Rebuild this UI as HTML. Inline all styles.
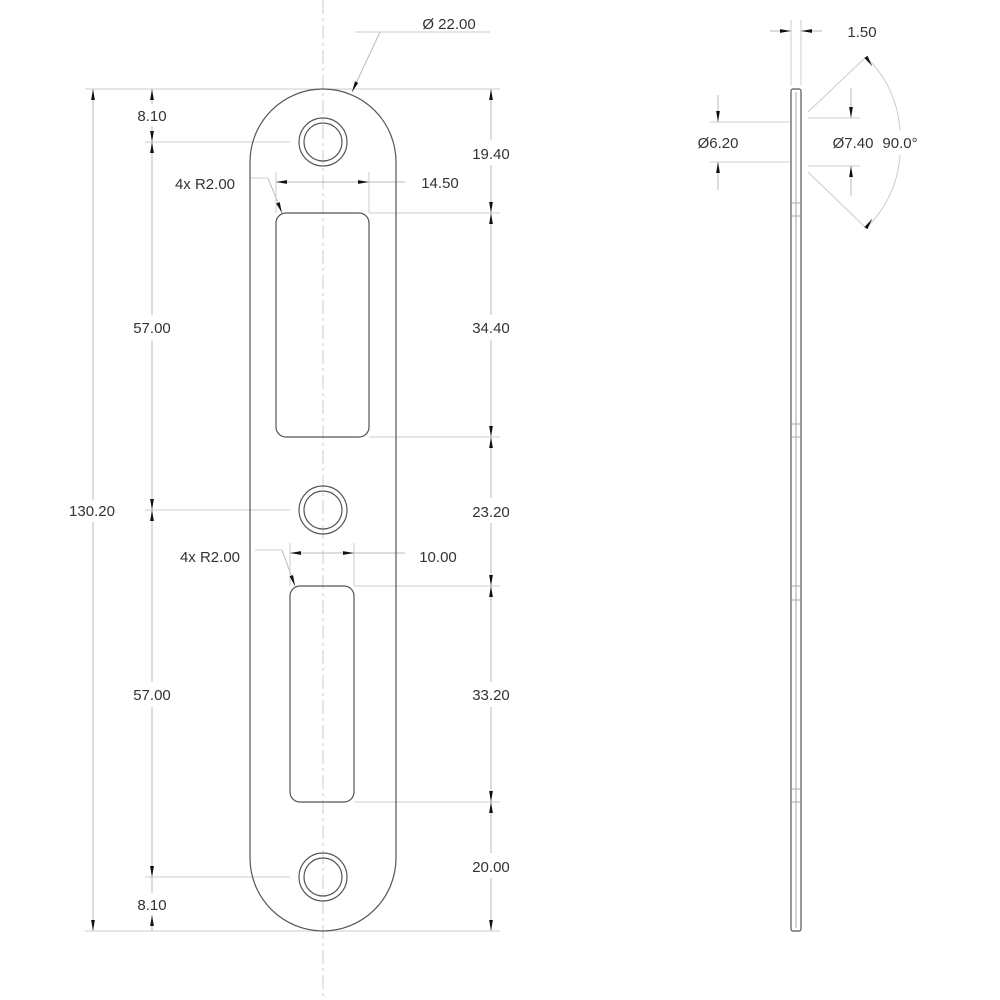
<!DOCTYPE html>
<html><head><style>html,body{margin:0;padding:0;background:#fff}svg{display:block}text{font-family:"Liberation Sans",sans-serif;font-size:15px;fill:#333}</style></head><body>
<svg width="1000" height="1000" viewBox="0 0 1000 1000" xmlns="http://www.w3.org/2000/svg">
<defs>
<marker id="a" viewBox="0 0 10 4" refX="10" refY="2" markerWidth="11" markerHeight="5" markerUnits="userSpaceOnUse" orient="auto-start-reverse"><path d="M0,0.3L10,2L0,3.7z" fill="#111"/></marker>
</defs>
<g stroke="#ccc" stroke-width="1" fill="none">
<line x1="323" y1="0" x2="323" y2="1000" stroke-dasharray="14,4,3,4"/>
<line x1="85" y1="89" x2="330" y2="89"/>
<line x1="85" y1="931" x2="500" y2="931"/>
<line x1="145" y1="142" x2="290" y2="142"/>
<line x1="145" y1="510" x2="290" y2="510"/>
<line x1="145" y1="877" x2="290" y2="877"/>
<line x1="330" y1="89" x2="500" y2="89"/>
<line x1="369" y1="213" x2="500" y2="213"/>
<line x1="369" y1="437" x2="500" y2="437"/>
<line x1="354" y1="586" x2="500" y2="586"/>
<line x1="354" y1="802" x2="500" y2="802"/>
<line x1="276" y1="172" x2="276" y2="213"/>
<line x1="369" y1="172" x2="369" y2="213"/>
<line x1="290" y1="543" x2="290" y2="586"/>
<line x1="354" y1="543" x2="354" y2="586"/>
<line x1="355" y1="32" x2="490" y2="32"/>
<line x1="250" y1="178" x2="268" y2="178"/>
<line x1="255" y1="550" x2="282" y2="550"/>
<line x1="791" y1="20" x2="791" y2="85"/>
<line x1="801" y1="20" x2="801" y2="85"/>
<line x1="710" y1="122" x2="790" y2="122"/>
<line x1="710" y1="162" x2="790" y2="162"/>
<line x1="808" y1="118" x2="860" y2="118"/>
<line x1="808" y1="166" x2="860" y2="166"/>
<line x1="808" y1="112" x2="866" y2="57"/>
<line x1="808" y1="172" x2="866" y2="228"/>
<path d="M866,57 A110,110 0 0 1 900,130"/>
<path d="M900,155 A110,110 0 0 1 866,228"/>
</g>
<g stroke="#bbb" stroke-width="1" fill="none">
<line x1="93" y1="89" x2="93" y2="500" marker-start="url(#a)"/>
<line x1="93" y1="522" x2="93" y2="931" marker-end="url(#a)"/>
<line x1="152" y1="89" x2="152" y2="104" marker-start="url(#a)"/>
<line x1="152" y1="126" x2="152" y2="142" marker-end="url(#a)"/>
<line x1="152" y1="142" x2="152" y2="315" marker-start="url(#a)"/>
<line x1="152" y1="340" x2="152" y2="510" marker-end="url(#a)"/>
<line x1="152" y1="510" x2="152" y2="682" marker-start="url(#a)"/>
<line x1="152" y1="707" x2="152" y2="877" marker-end="url(#a)"/>
<line x1="152" y1="860" x2="152" y2="877" marker-end="url(#a)"/>
<line x1="152" y1="931" x2="152" y2="915" marker-end="url(#a)"/>
<line x1="152" y1="877" x2="152" y2="893"/>
<line x1="491" y1="89" x2="491" y2="140" marker-start="url(#a)"/>
<line x1="491" y1="165" x2="491" y2="213" marker-end="url(#a)"/>
<line x1="491" y1="213" x2="491" y2="315" marker-start="url(#a)"/>
<line x1="491" y1="340" x2="491" y2="437" marker-end="url(#a)"/>
<line x1="491" y1="437" x2="491" y2="498" marker-start="url(#a)"/>
<line x1="491" y1="523" x2="491" y2="586" marker-end="url(#a)"/>
<line x1="491" y1="586" x2="491" y2="682" marker-start="url(#a)"/>
<line x1="491" y1="707" x2="491" y2="802" marker-end="url(#a)"/>
<line x1="491" y1="802" x2="491" y2="853" marker-start="url(#a)"/>
<line x1="491" y1="878" x2="491" y2="931" marker-end="url(#a)"/>
<line x1="276" y1="182" x2="369" y2="182" marker-start="url(#a)" marker-end="url(#a)"/>
<line x1="369" y1="182" x2="405" y2="182"/>
<line x1="290" y1="553" x2="354" y2="553" marker-start="url(#a)" marker-end="url(#a)"/>
<line x1="354" y1="553" x2="405" y2="553"/>
<line x1="268" y1="178" x2="282" y2="213" marker-end="url(#a)"/>
<line x1="282" y1="550" x2="295" y2="586" marker-end="url(#a)"/>
<line x1="380" y1="32" x2="352" y2="92" marker-end="url(#a)"/>
<line x1="770" y1="31" x2="791" y2="31" marker-end="url(#a)"/>
<line x1="822" y1="31" x2="801" y2="31" marker-end="url(#a)"/>
<line x1="718" y1="95" x2="718" y2="122" marker-end="url(#a)"/>
<line x1="718" y1="190" x2="718" y2="162" marker-end="url(#a)"/>
<line x1="851" y1="88" x2="851" y2="118" marker-end="url(#a)"/>
<line x1="851" y1="196" x2="851" y2="166" marker-end="url(#a)"/>
<line x1="872" y1="66" x2="866" y2="57" marker-start="url(#a)"/>
<line x1="872" y1="219" x2="866" y2="228" marker-start="url(#a)"/>
</g>
<g stroke="#555" stroke-width="1.2" fill="none">
<path d="M250,162 A73,73 0 0 1 396,162 L396,858 A73,73 0 0 1 250,858 Z"/>
<circle cx="323" cy="142" r="24"/><circle cx="323" cy="142" r="19"/>
<circle cx="323" cy="510" r="24"/><circle cx="323" cy="510" r="19"/>
<circle cx="323" cy="877" r="24"/><circle cx="323" cy="877" r="19"/>
<rect x="276" y="213" width="93" height="224" rx="10"/>
<rect x="290" y="586" width="64" height="216" rx="10"/>
<rect x="791" y="89" width="10" height="842" rx="2"/>
</g>
<g stroke="#aaa" stroke-width="1" fill="none">
<line x1="796" y1="92" x2="796" y2="928"/>
<line x1="791" y1="424" x2="801" y2="424"/><line x1="791" y1="437" x2="801" y2="437"/>
<line x1="791" y1="586" x2="801" y2="586"/><line x1="791" y1="600" x2="801" y2="600"/>
<line x1="791" y1="789" x2="801" y2="789"/><line x1="791" y1="802" x2="801" y2="802"/>
<line x1="791" y1="203" x2="801" y2="203"/><line x1="791" y1="216" x2="801" y2="216"/>
</g>
<g text-anchor="middle">
<text x="449" y="29">Ø 22.00</text>
<text x="152" y="121">8.10</text>
<text x="152" y="333">57.00</text>
<text x="92" y="516">130.20</text>
<text x="152" y="700">57.00</text>
<text x="152" y="910">8.10</text>
<text x="491" y="159">19.40</text>
<text x="491" y="333">34.40</text>
<text x="491" y="517">23.20</text>
<text x="491" y="700">33.20</text>
<text x="491" y="872">20.00</text>
<text x="440" y="188">14.50</text>
<text x="438" y="562">10.00</text>
<text x="205" y="189">4x R2.00</text>
<text x="210" y="562">4x R2.00</text>
<text x="862" y="37">1.50</text>
<text x="718" y="148">Ø6.20</text>
<text x="853" y="148">Ø7.40</text>
<text x="900" y="148">90.0°</text>
</g>
</svg>
</body></html>
